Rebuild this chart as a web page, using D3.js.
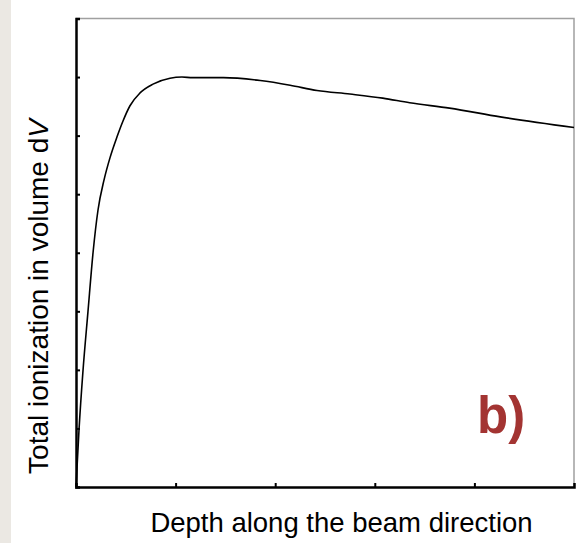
<!DOCTYPE html>
<html>
<head>
<meta charset="utf-8">
<script src="https://cdn.jsdelivr.net/npm/d3@7"></script>
<style>
  html, body { margin: 0; padding: 0; background: #fff; }
  svg { display: block; font-family: "Liberation Sans", Arial, sans-serif; }
</style>
</head>
<body>
<div id="vis"></div>
<script>
// depth along the beam (arbitrary units) vs total ionization
var depth = [0, 0.03, 0.07, 0.12, 0.171, 0.221, 0.281, 0.341, 0.412, 0.472, 0.542, 0.643, 0.773, 0.944, 1.064, 1.17, 1.48, 1.85, 2.15, 2.42, 2.75, 3.08, 3.35, 3.75, 4.26, 5.0];
var ionization = [0, 0.97, 1.98, 2.99, 4.0, 4.73, 5.24, 5.62, 5.98, 6.25, 6.51, 6.73, 6.88, 6.98, 7.0, 6.99, 6.99, 6.94, 6.86, 6.77, 6.71, 6.64, 6.56, 6.47, 6.32, 6.14];
var xTicks = [0, 1, 2, 3, 4, 5];
var yTicks = [0, 1, 2, 3, 4, 5, 6, 7, 8];
var xLabel = "Depth along the beam direction";
var yLabel = "Total ionization in volume d";
var panelLabel = "b)";

var width = 584;
var height = 543;
var margin = {left: 76, right: 10, top: 18.5, bottom: 56};

var svg = d3.select('#vis').append('svg')
    .attr('width', width)
    .attr('height', height);

// beige strip on the left edge
svg.append('rect')
    .attr('x', 0).attr('y', 0)
    .attr('width', 11).attr('height', height)
    .attr('fill', '#ebe8e3');

var x = d3.scaleLinear().domain([0, 5]).range([margin.left, width - margin.right]);
var y = d3.scaleLinear().domain([0, 8]).range([height - margin.bottom, margin.top]);

// gray frame on top and right
svg.append('path')
    .attr('d', 'M' + x(0) + ',' + y(8) + 'H' + x(5) + 'V' + y(0))
    .attr('fill', 'none')
    .attr('stroke', '#a0a0a0')
    .attr('stroke-width', 1.5);

var xAxis = svg.append('g')
    .attr('transform', 'translate(0,' + y(0) + ')')
    .call(d3.axisBottom(x).tickValues(xTicks).tickSize(-4).tickFormat(''));
var yAxis = svg.append('g')
    .attr('transform', 'translate(' + x(0) + ',0)')
    .call(d3.axisLeft(y).tickValues(yTicks).tickSize(-4).tickFormat(''));

[xAxis, yAxis].forEach(function (g) {
    g.select('.domain').attr('stroke', '#000').attr('stroke-width', 2.5);
    g.selectAll('.tick line').attr('stroke', '#000').attr('stroke-width', 2);
});
xAxis.selectAll('.tick').filter(function (d) { return d == 0 || d == 5; }).remove();
yAxis.selectAll('.tick').filter(function (d) { return d == 0 || d == 8; }).remove();

var line = d3.line()
    .x(function (d, i) { return x(depth[i]); })
    .y(function (d, i) { return y(ionization[i]); })
    .curve(d3.curveMonotoneX);

svg.append('path')
    .datum(depth)
    .attr('d', line)
    .attr('fill', 'none')
    .attr('stroke', '#000')
    .attr('stroke-width', 1.6);

svg.append('text')
    .attr('x', 341.5)
    .attr('y', 532)
    .attr('text-anchor', 'middle')
    .attr('font-size', 27.5)
    .attr('fill', '#000')
    .text(xLabel);

var yl = svg.append('text')
    .attr('transform', 'translate(48,296.5) rotate(-90)')
    .attr('text-anchor', 'middle')
    .attr('font-size', 28)
    .attr('fill', '#000')
    .text(yLabel);
yl.append('tspan').attr('font-style', 'italic').text('V');

svg.append('text')
    .attr('x', 477)
    .attr('y', 433)
    .attr('font-size', 51)
    .attr('font-weight', 'bold')
    .attr('fill', '#a33432')
    .text(panelLabel);
</script>
</body>
</html>
